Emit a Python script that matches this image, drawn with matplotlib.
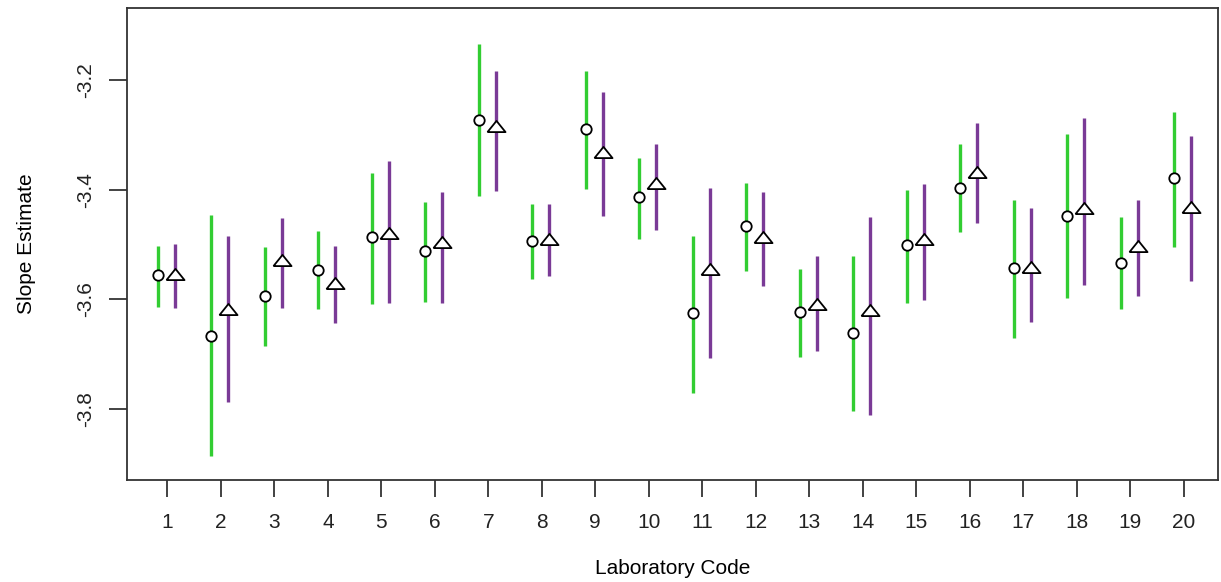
import numpy as np
import matplotlib
matplotlib.use("Agg")
import matplotlib.pyplot as plt

plt.rcParams['font.family'] = ['Liberation Sans', 'DejaVu Sans']

# laboratory codes
labs = np.arange(1, 21)

# method 1 (green, circles): estimate, lower and upper limits
est1 = [-3.556, -3.666, -3.594, -3.547, -3.487, -3.511, -3.273, -3.494, -3.290, -3.413,
        -3.625, -3.466, -3.623, -3.661, -3.501, -3.397, -3.542, -3.447, -3.533, -3.378]
lo1 = [-3.613, -3.886, -3.685, -3.618, -3.608, -3.604, -3.411, -3.563, -3.399, -3.490,
       -3.771, -3.549, -3.704, -3.804, -3.606, -3.477, -3.671, -3.597, -3.618, -3.504]
hi1 = [-3.502, -3.446, -3.505, -3.476, -3.369, -3.422, -3.135, -3.426, -3.183, -3.343,
       -3.485, -3.388, -3.545, -3.521, -3.400, -3.317, -3.419, -3.298, -3.450, -3.258]

# method 2 (purple, triangles)
est2 = [-3.554, -3.618, -3.528, -3.570, -3.479, -3.496, -3.284, -3.490, -3.332, -3.388,
        -3.544, -3.487, -3.609, -3.620, -3.490, -3.368, -3.540, -3.434, -3.502, -3.431]
lo2 = [-3.616, -3.787, -3.616, -3.643, -3.606, -3.606, -3.402, -3.558, -3.447, -3.473,
       -3.706, -3.575, -3.694, -3.811, -3.601, -3.461, -3.641, -3.573, -3.594, -3.566]
hi2 = [-3.498, -3.485, -3.452, -3.502, -3.348, -3.405, -3.183, -3.426, -3.221, -3.317,
       -3.397, -3.405, -3.521, -3.450, -3.390, -3.279, -3.433, -3.269, -3.419, -3.302]

green = '#32CD32'
purple = '#7A3A96'

fig = plt.figure(figsize=(12.21, 5.82), dpi=100)
ax = fig.add_axes([0.104, 0.1753, 0.8935, 0.8107])

x1 = labs - 0.18
x2 = labs + 0.14

ax.vlines(x1, lo1, hi1, color=green, lw=2.4, zorder=2)
ax.vlines(x2, lo2, hi2, color=purple, lw=2.4, zorder=2)

tri = [(-1.0, -0.62), (1.0, -0.62), (0.0, 0.62), (-1.0, -0.62)]
ax.plot(x1, est1, ls='none', marker='o', ms=7.5, mfc='white', mec='black', mew=1.3, zorder=3)
ax.plot(x2, est2, ls='none', marker=tri, ms=13, mfc='white', mec='black', mew=1.3, zorder=3)

ax.set_xlim(0.245, 20.64)
ax.set_ylim(-3.929, -3.069)

ax.set_xticks(labs)
ax.set_xticklabels([str(i) for i in labs])
ax.set_yticks([-3.8, -3.6, -3.4, -3.2])
ax.set_yticklabels(['-3.8', '-3.6', '-3.4', '-3.2'], rotation=90, va='center')

ax.tick_params(axis='x', length=12, width=1.2, pad=12, labelsize=15, colors='#222222')
ax.tick_params(axis='y', length=13, width=1.2, pad=10, labelsize=15, colors='#222222')

for s in ax.spines.values():
    s.set_linewidth(1.3)
    s.set_color('#333333')

ax.set_xlabel('Laboratory Code', fontsize=15, labelpad=19)
ax.set_ylabel('Slope Estimate', fontsize=15, labelpad=29)

fig.savefig('out.png', dpi=100)
